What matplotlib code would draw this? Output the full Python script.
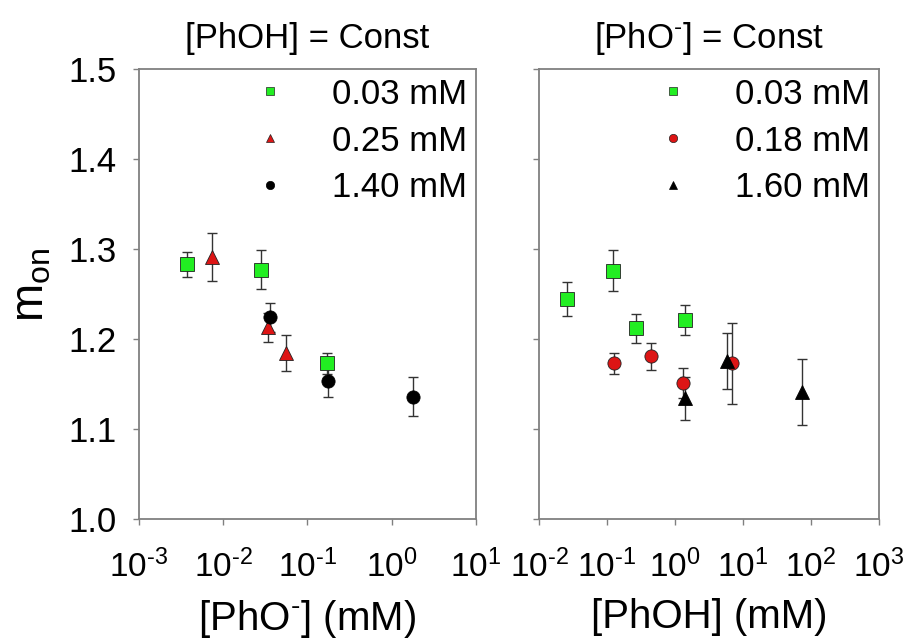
import numpy as np
import matplotlib
matplotlib.use("Agg")
import matplotlib.pyplot as plt
from matplotlib.ticker import NullLocator, FuncFormatter

plt.rcParams['font.family'] = ['Liberation Sans', 'DejaVu Sans']
plt.rcParams['mathtext.fontset'] = 'custom'
plt.rcParams['mathtext.rm'] = 'Liberation Sans'
plt.rcParams['mathtext.it'] = 'Liberation Sans:italic'
plt.rcParams['axes.unicode_minus'] = False

# left panel: [PhOH] = const, x = [PhO-] (mM)
l_labels = ["0.03 mM", "0.25 mM", "1.40 mM"]
l_x = [[0.0037, 0.028, 0.169],
       [0.0074, 0.034, 0.055],
       [0.036, 0.175, 1.80]]
l_y = [[1.283, 1.277, 1.173],
       [1.291, 1.213, 1.184],
       [1.224, 1.153, 1.136]]
l_err = [[0.014, 0.022, 0.012],
         [0.027, 0.016, 0.020],
         [0.016, 0.017, 0.022]]

# right panel: [PhO-] = const, x = [PhOH] (mM)
r_labels = ["0.03 mM", "0.18 mM", "1.60 mM"]
r_x = [[0.026, 0.121, 0.267, 1.40],
       [0.127, 0.44, 1.32, 7.0],
       [1.40, 5.9, 73.0]]
r_y = [[1.244, 1.276, 1.212, 1.221],
       [1.173, 1.181, 1.151, 1.173],
       [1.134, 1.176, 1.141]]
r_err = [[0.019, 0.023, 0.016, 0.017],
         [0.012, 0.015, 0.017, 0.045],
         [0.024, 0.031, 0.037]]

green = '#22ee22'
red = '#dd1515'
l_style = [('s', green), ('^', red), ('o', 'black')]
r_style = [('s', green), ('o', red), ('^', 'black')]


def pow10(v, pos):
    # short hyphen in the exponent, like the original
    return r'$10^{\text{%d}}$' % int(round(np.log10(v)))


fig = plt.figure(figsize=(9.08, 6.41), dpi=100)
ax1 = fig.add_axes([0.1531, 0.1903, 0.3711, 0.7021])
ax2 = fig.add_axes([0.5936, 0.1903, 0.3744, 0.7021])


def draw(ax, xs, ys, errs, labels, styles):
    handles = []
    for x, y, e, (m, c) in zip(xs, ys, errs, styles):
        edge = 'black' if c == 'black' else '#222222'
        ax.errorbar(x, y, yerr=e, fmt='none', ecolor='#333333', elinewidth=1.0,
                    capsize=3.5, capthick=1.0, zorder=2)
        ax.plot(x, y, linestyle='none', marker=m, markersize=9.5, color=c,
                markeredgecolor=edge, markeredgewidth=0.6, zorder=3)
        h, = ax.plot([], [], linestyle='none', marker=m, markersize=6, color=c,
                     markeredgecolor=edge, markeredgewidth=0.5)
        handles.append(h)
    ax.set_xscale('log')
    ax.set_ylim(1.0, 1.5)
    ax.set_yticks([1.0, 1.1, 1.2, 1.3, 1.4, 1.5])
    ax.xaxis.set_minor_locator(NullLocator())
    for s in ax.spines.values():
        s.set_color('#808080')
        s.set_linewidth(1.3)
    ax.tick_params(axis='both', direction='out', length=4, width=1.0,
                   color='#808080')
    ax.tick_params(axis='y', labelsize=25, pad=12)
    ax.tick_params(axis='x', labelsize=24, pad=18)
    ax.legend(handles, labels, loc='upper right', frameon=False, fontsize=25,
              handletextpad=1.3, labelspacing=0.4, borderaxespad=0.15,
              borderpad=0.1, handlelength=1.0)


draw(ax1, l_x, l_y, l_err, l_labels, l_style)
draw(ax2, r_x, r_y, r_err, r_labels, r_style)

ax1.set_xlim(1e-3, 1e1)
ax1.set_xticks([1e-3, 1e-2, 1e-1, 1e0, 1e1])
ax2.set_xlim(1e-2, 1e3)
ax2.set_xticks([1e-2, 1e-1, 1e0, 1e1, 1e2, 1e3])
ax1.xaxis.set_major_formatter(FuncFormatter(pow10))
ax2.xaxis.set_major_formatter(FuncFormatter(pow10))
ax2.tick_params(axis='y', labelleft=False)

ax1.set_title('[PhOH] = Const', fontsize=25, pad=15)
ax2.set_title(r'[PhO$^{\text{-}}$] = Const', fontsize=25, pad=15)
ax1.set_xlabel(r'[PhO$^{\text{-}}$] (mM)', fontsize=29, labelpad=10)
ax2.set_xlabel('[PhOH] (mM)', fontsize=29, labelpad=10)
ax1.set_ylabel(r'm$_{\mathrm{on}}$', fontsize=33)
ax1.yaxis.set_label_coords(-0.255, 0.52)

fig.savefig('out.png', dpi=100)
